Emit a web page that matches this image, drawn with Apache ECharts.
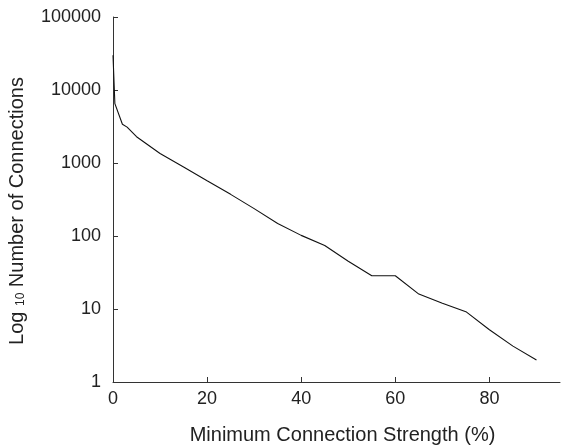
<!DOCTYPE html>
<html lang="en">
<head>
  <meta charset="UTF-8">
  <title>Connections</title>
  <script src="https://cdn.jsdelivr.net/npm/echarts@6/dist/echarts.min.js"></script>
</head>
<body style="margin:0">
<div id="chart" style="width:561px;height:447px;"></div>
<script>
  // 最小连接强度 (%) 与连接数
  let strength = [0, 0.4, 2, 3, 5, 10, 15, 20, 25, 30, 35, 40, 45, 50, 55, 60, 65, 70, 75, 80, 85, 90]
  let connections = [30000, 6500, 3400, 3100, 2290, 1350, 880, 570, 372, 237, 148, 102, 74, 45, 28.5, 28.5, 16, 12, 9.2, 5.2, 3.1, 2]
  let xTicks = [0, 20, 40, 60, 80]

  let myChart = echarts.init(document.getElementById('chart'))
  let font = 'Liberation Sans'
  option = {
    animation: false,
    grid: {left: 113, top: 17, right: 1, bottom: 65, containLabel: false, outerBoundsMode: 'none'},
    xAxis: {
      type: 'value',
      min: 0,
      max: 95,
      interval: 20,
      name: 'Minimum Connection Strength (%)',
      nameLocation: 'middle',
      nameGap: 43,
      nameTextStyle: {fontFamily: font, fontSize: 20, color: '#222', padding: [0, 0, 0, 12]},
      axisLine: {lineStyle: {color: '#333', width: 1}},
      axisTick: {inside: true, length: 5, customValues: xTicks, lineStyle: {color: '#333'}},
      axisLabel: {customValues: xTicks, margin: 8, fontFamily: font, fontSize: 18, color: '#222'},
      splitLine: {show: false}
    },
    yAxis: {
      type: 'log',
      logBase: 10,
      min: 1,
      max: 100000,
      name: '{a|Log }{s|10}{a| Number of Connections}',
      nameLocation: 'middle',
      nameRotate: 90,
      nameGap: 86,
      nameTextStyle: {
        fontFamily: font, fontSize: 20, color: '#222',
        padding: [0, 23, 0, 0],
        rich: {
          a: {fontFamily: font, fontSize: 20, color: '#222'},
          s: {fontFamily: font, fontSize: 12, color: '#222', padding: [7, 0, 0, 0]}
        }
      },
      axisLine: {show: true, lineStyle: {color: '#333', width: 1}},
      axisTick: {show: true, inside: true, length: 5, lineStyle: {color: '#333'}},
      axisLabel: {margin: 12, fontFamily: font, fontSize: 18, color: '#222', formatter: v => String(v)},
      splitLine: {show: false}
    },
    series: [
      {
        type: 'line',
        data: strength.map((s, i) => [s, connections[i]]),
        showSymbol: false,
        symbol: 'none',
        lineStyle: {color: '#111', width: 1.1}
      }
    ]
  }
  myChart.setOption(option)
</script>
</body>
</html>
